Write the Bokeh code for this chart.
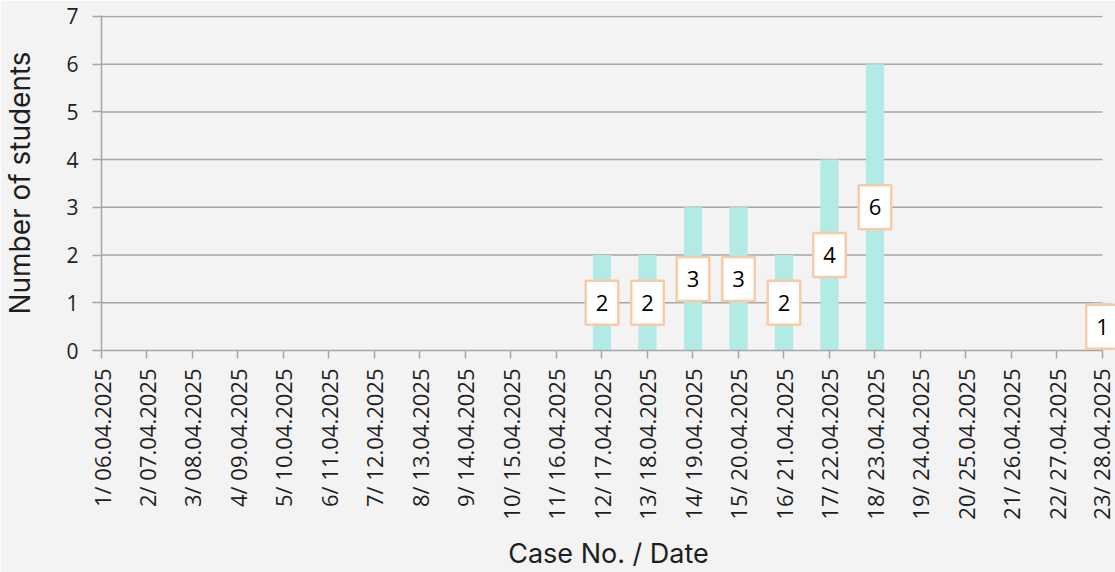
import math
from bokeh.plotting import figure
from bokeh.models import ColumnDataSource, Range1d, FixedTicker, Label
from bokeh.embed import file_html
from bokeh.resources import INLINE

# ---- data ----
case_labels = [
    "1/ 06.04.2025", "2/ 07.04.2025", "3/ 08.04.2025", "4/ 09.04.2025",
    "5/ 10.04.2025", "6/ 11.04.2025", "7/ 12.04.2025", "8/ 13.04.2025",
    "9/ 14.04.2025", "10/ 15.04.2025", "11/ 16.04.2025", "12/ 17.04.2025",
    "13/ 18.04.2025", "14/ 19.04.2025", "15/ 20.04.2025", "16/ 21.04.2025",
    "17/ 22.04.2025", "18/ 23.04.2025", "19/ 24.04.2025", "20/ 25.04.2025",
    "21/ 26.04.2025", "22/ 27.04.2025", "23/ 28.04.2025",
]
case_numbers = list(range(1, len(case_labels) + 1))
students = [0, 0, 0, 0, 0, 0, 0, 0, 0, 0, 0, 2, 2, 3, 3, 2, 4, 6, 0, 0, 0, 0, 1]
y_ticks = [0, 1, 2, 3, 4, 5, 6, 7]

x_title = "Case No. / Date"
y_title = "Number of students"

# ---- style ----
BG = "#f3f3f3"
BAR = "#b2ebe6"
GRID = "#a6a6a6"
BOX_LINE = "#f8cba7"
TXT = "#1e1e1e"
RIGHT_PAD = 0.286   # frame continues a little past the last category

src = ColumnDataSource(dict(x=case_numbers, students=students))

p = figure(
    width=1115, height=572,
    x_range=Range1d(case_numbers[0], case_numbers[-1] + RIGHT_PAD),
    y_range=Range1d(0, y_ticks[-1] + 0.02),
    output_backend="svg", toolbar_location=None,
    min_border_left=101, min_border_right=0,
    min_border_top=15, min_border_bottom=221,
)
p.background_fill_color = BG
p.border_fill_color = BG
p.outline_line_color = None

# horizontal gridlines spanning the category extent only
grid_levels = y_ticks[1:]
p.segment(x0=case_numbers[0], x1=case_numbers[-1], y0=grid_levels, y1=grid_levels,
          line_color=GRID, line_width=1.5)

p.vbar(x="x", top="students", width=0.4, source=src,
       fill_color=BAR, line_color=None)

# value labels (boxed) at mid-height of each non-zero bar
for xv, v in zip(case_numbers, students):
    if v:
        p.add_layout(Label(
            x=xv, y=v / 2, text=str(v),
            text_align="center", text_baseline="middle",
            text_font="Open Sans", text_font_size="22px", text_color="#000000",
            background_fill_color="#ffffff",
            border_line_color=BOX_LINE, border_line_width=2.5,
            padding=dict(left=10, right=10, top=14, bottom=14),
        ))

# axes
p.xaxis.ticker = FixedTicker(ticks=case_numbers)
p.xaxis.bounds = (case_numbers[0], case_numbers[-1])
p.xaxis.major_label_overrides = {n: lab for n, lab in zip(case_numbers, case_labels)}
p.xaxis.major_label_orientation = math.pi / 2
p.xaxis.major_label_text_font = "Open Sans"
p.xaxis.major_label_text_font_size = "22px"
p.xaxis.major_label_text_color = TXT
p.xaxis.major_label_standoff = 10
p.xaxis.major_tick_out = 8
p.xaxis.major_tick_in = 0
p.xaxis.minor_tick_line_color = None
p.xaxis.axis_line_color = GRID
p.xaxis.major_tick_line_color = GRID
p.xaxis.axis_line_width = 1.5
p.xaxis.major_tick_line_width = 1.5
p.xaxis.axis_label = x_title
p.xaxis.axis_label_text_font = "Inter"
p.xaxis.axis_label_text_font_size = "27px"
p.xaxis.axis_label_text_font_style = "normal"
p.xaxis.axis_label_text_color = TXT
p.xaxis.axis_label_standoff = 14

p.yaxis.ticker = FixedTicker(ticks=y_ticks)
p.yaxis.major_label_text_font = "Open Sans"
p.yaxis.major_label_text_font_size = "21px"
p.yaxis.major_label_text_color = TXT
p.yaxis.major_label_standoff = 14
p.yaxis.major_tick_out = 9
p.yaxis.major_tick_in = 0
p.yaxis.minor_tick_line_color = None
p.yaxis.axis_line_color = GRID
p.yaxis.major_tick_line_color = GRID
p.yaxis.axis_line_width = 1.5
p.yaxis.major_tick_line_width = 1.5
p.yaxis.axis_label = y_title
p.yaxis.axis_label_text_font = "Inter"
p.yaxis.axis_label_text_font_size = "28px"
p.yaxis.axis_label_text_font_style = "normal"
p.yaxis.axis_label_text_color = TXT
p.yaxis.axis_label_standoff = 26

p.xgrid.visible = False
p.ygrid.visible = False

open("out.html", "w").write(file_html(p, INLINE))
